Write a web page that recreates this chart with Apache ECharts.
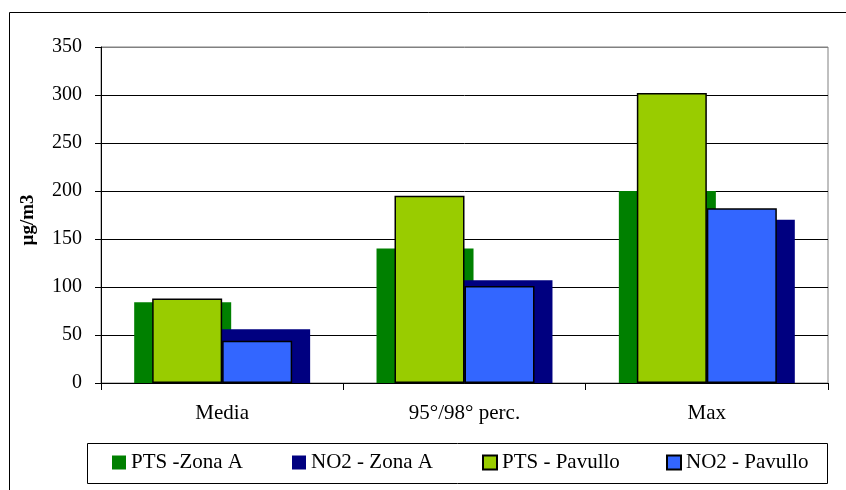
<!DOCTYPE html>
<html>
<head>
<meta charset="utf-8">
<style>html,body{margin:0;padding:0;background:#fff;}#c{width:846px;height:490px;}</style>
<script src="https://cdn.jsdelivr.net/npm/echarts@6/dist/echarts.min.js"></script>
</head>
<body>
<div id="c"></div>
<script>
const categories = ['Media', '95°/98° perc.', 'Max'];
const ptsZonaA = [84, 140, 200];
const no2ZonaA = [56, 107, 170];
const ptsPavullo = [88, 195, 302];
const no2Pavullo = [44, 101, 182];
const yTicks = [0, 50, 100, 150, 200, 250, 300, 350];

const FONT = 'Liberation Serif';
const chart = echarts.init(document.getElementById('c'), null, {renderer: 'canvas'});

function legendAt(name, left) {
  return {
    data: [name], left: left, top: 452, itemWidth: 14, itemHeight: 14, itemGap: 0,
    padding: 0,
    textStyle: {fontFamily: FONT, fontSize: 21, color: '#000', padding: [0, 0, 0, 0]},
    icon: 'rect', selectedMode: false
  };
}

chart.setOption({
  animation: false,
  backgroundColor: '#fff',
  grid: {left: 101, right: 18, top: 47, bottom: 107, show: true, borderColor: '#808080', borderWidth: 1, backgroundColor: 'transparent'},
  graphic: [
    {type: 'rect', shape: {x: 9.5, y: 12.5, width: 900, height: 600}, style: {fill: 'none', stroke: '#000', lineWidth: 1}, silent: true, z: 100},
    {type: 'rect', shape: {x: 87.5, y: 443.5, width: 740, height: 40}, style: {fill: 'none', stroke: '#000', lineWidth: 1}, silent: true, z: 100}
  ],
  legend: [
    legendAt('PTS -Zona A', 112),
    legendAt('NO2 - Zona A', 292),
    legendAt('PTS - Pavullo', 482),
    legendAt('NO2 - Pavullo', 666)
  ],
  xAxis: [
    {
      type: 'category', data: categories, position: 'bottom',
      axisLine: {show: true, lineStyle: {color: '#000', width: 1}},
      axisTick: {show: true, length: 7, lineStyle: {color: '#000'}},
      axisLabel: {fontFamily: FONT, fontSize: 21, color: '#000', margin: 20},
      splitLine: {show: false}
    },
    {
      type: 'category', data: categories, position: 'bottom', show: false
    }
  ],
  yAxis: {
    type: 'value', min: 0, max: 350, interval: 50,
    name: 'µg/m3', nameLocation: 'middle', nameGap: 63, nameRotate: 90,
    nameTextStyle: {fontFamily: FONT, fontSize: 19, fontWeight: 'bold', color: '#000', padding: [0, 10, 0, 0]},
    axisLine: {show: true, lineStyle: {color: '#000', width: 1}},
    axisTick: {show: true, length: 6, lineStyle: {color: '#000'}},
    axisLabel: {fontFamily: FONT, fontSize: 20, color: '#000', margin: 19,
      formatter: function (v) { return yTicks.indexOf(v) >= 0 ? String(v) : ''; }},
    splitLine: {show: true, lineStyle: {color: ['#000', '#000', '#000', '#000', '#000', '#000', '#000', '#808080'], width: 1}}
  },
  series: [
    {name: 'PTS -Zona A', type: 'bar', xAxisIndex: 0, data: ptsZonaA, barWidth: 97, barGap: '-18.6%',
      itemStyle: {color: '#008000'}},
    {name: 'NO2 - Zona A', type: 'bar', xAxisIndex: 0, data: no2ZonaA, barWidth: 97, barGap: '-18.6%',
      itemStyle: {color: '#000080'}},
    {name: 'PTS - Pavullo', type: 'bar', xAxisIndex: 1, data: ptsPavullo, barWidth: 70, barGap: '0%',
      itemStyle: {color: '#99CC00', borderColor: '#000', borderWidth: 1.5}},
    {name: 'NO2 - Pavullo', type: 'bar', xAxisIndex: 1, data: no2Pavullo, barWidth: 70, barGap: '0%',
      itemStyle: {color: '#3366FF', borderColor: '#000', borderWidth: 1.5}}
  ]
});
</script>
</body>
</html>
